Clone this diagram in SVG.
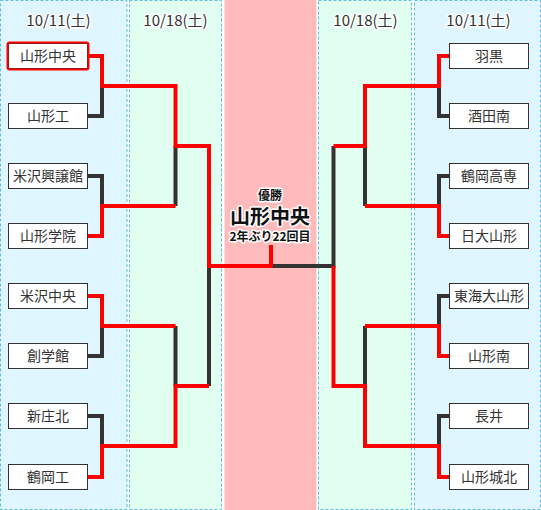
<svg xmlns="http://www.w3.org/2000/svg" width="541" height="510" viewBox="0 0 541 510">
<style>
.col{stroke:#5bc0de;stroke-width:1;stroke-dasharray:3,2}
.blue{fill:#dff5ff}
.mint{fill:#e1fff1}
.pink{fill:#ffbbbb}
.hd{font-family:"Noto Sans CJK JP","Noto Sans",sans-serif;font-size:15px;fill:#333;text-anchor:middle;stroke:#fff;stroke-width:3;paint-order:stroke;stroke-linejoin:round}
.box rect{fill:#fff;stroke:#333;stroke-width:1}
.box text{font-family:"Noto Sans CJK JP","Noto Sans",sans-serif;font-size:14px;fill:#333;text-anchor:middle}
.dk{fill:none;stroke:#333;stroke-width:4;stroke-linejoin:miter}
.rd{fill:none;stroke:#ff0000;stroke-width:4;stroke-linejoin:miter}
.win{font-family:"Noto Sans CJK JP","Noto Sans",sans-serif;font-weight:bold;fill:#111;text-anchor:middle;stroke:#fff;stroke-width:3;paint-order:stroke;stroke-linejoin:round}
</style>
<g id="columns">
<rect class="col blue" x="0.5" y="0.5" width="126.5" height="509"/>
<rect class="col mint" x="129.5" y="0.5" width="92" height="509"/>
<rect class="pink" x="224.5" y="0" width="92" height="510"/>
<rect class="col mint" x="318.5" y="0.5" width="93" height="509"/>
<rect class="col blue" x="414.5" y="0.5" width="126" height="509"/>
</g>
<g id="headers">
<text class="hd" x="58.5" y="26">10/11(土)</text>
<text class="hd" x="175.5" y="26">10/18(土)</text>
<text class="hd" x="365.5" y="26">10/18(土)</text>
<text class="hd" x="478.5" y="26">10/11(土)</text>
</g>
<g id="connectors">
<path class="dk" d="M88,116 H102 V86"/>
<path class="dk" d="M88,176 H102 V206"/>
<path class="dk" d="M175.5,206 V146"/>
<path class="dk" d="M88,356 H102 V326"/>
<path class="dk" d="M175.5,326 V386"/>
<path class="dk" d="M88,416 H102 V446"/>
<path class="dk" d="M209,386 V266"/>
<path class="dk" d="M449,116 H439 V86"/>
<path class="dk" d="M333.5,146 V266 H271"/>
<path class="dk" d="M449,176 H439 V206"/>
<path class="dk" d="M365,206 V146"/>
<path class="dk" d="M449,296 H439 V326"/>
<path class="dk" d="M365,326 V386"/>
<path class="dk" d="M449,416 H439 V446"/>
<path class="rd" d="M88,56 H102 V86 H175.5 V146 H209 V266 H271 V245"/>
<path class="rd" d="M88,236 H102 V206 H175.5"/>
<path class="rd" d="M88,296 H102 V326 H175.5"/>
<path class="rd" d="M88,477 H102 V446 H175.5 V386 H209"/>
<path class="rd" d="M449,56 H439 V86 H365 V146 H333.5"/>
<path class="rd" d="M449,236 H439 V206 H365"/>
<path class="rd" d="M449,356 H439 V326 H365"/>
<path class="rd" d="M449,477 H439 V446 H365 V386 H333.5 V266"/>
</g>
<g id="n1" class="box"><rect x="8.5" y="43.5" width="79" height="25"/><rect x="7.5" y="42.5" width="81" height="27" rx="2" style="fill:none;stroke:#ff0000;stroke-width:2"/><text x="48" y="61">山形中央</text></g>
<g id="n2" class="box"><rect x="8.5" y="103.5" width="79" height="25"/><text x="48" y="121">山形工</text></g>
<g id="n3" class="box"><rect x="8.5" y="163.5" width="79" height="25"/><text x="48" y="181">米沢興譲館</text></g>
<g id="n4" class="box"><rect x="8.5" y="223.5" width="79" height="25"/><text x="48" y="241">山形学院</text></g>
<g id="n5" class="box"><rect x="8.5" y="283.5" width="79" height="25"/><text x="48" y="301">米沢中央</text></g>
<g id="n6" class="box"><rect x="8.5" y="343.5" width="79" height="25"/><text x="48" y="361">創学館</text></g>
<g id="n7" class="box"><rect x="8.5" y="403.5" width="79" height="25"/><text x="48" y="421">新庄北</text></g>
<g id="n8" class="box"><rect x="8.5" y="464.5" width="79" height="25"/><text x="48" y="482">鶴岡工</text></g>
<g id="n9" class="box"><rect x="449.5" y="43.5" width="79" height="25"/><text x="489" y="61">羽黒</text></g>
<g id="n10" class="box"><rect x="449.5" y="103.5" width="79" height="25"/><text x="489" y="121">酒田南</text></g>
<g id="n11" class="box"><rect x="449.5" y="163.5" width="79" height="25"/><text x="489" y="181">鶴岡高専</text></g>
<g id="n12" class="box"><rect x="449.5" y="223.5" width="79" height="25"/><text x="489" y="241">日大山形</text></g>
<g id="n13" class="box"><rect x="449.5" y="283.5" width="79" height="25"/><text x="489" y="301">東海大山形</text></g>
<g id="n14" class="box"><rect x="449.5" y="343.5" width="79" height="25"/><text x="489" y="361">山形南</text></g>
<g id="n15" class="box"><rect x="449.5" y="403.5" width="79" height="25"/><text x="489" y="421">長井</text></g>
<g id="n16" class="box"><rect x="449.5" y="464.5" width="79" height="25"/><text x="489" y="482">山形城北</text></g>
<g id="champion">
<text class="win" x="270" y="200" font-size="12">優勝</text>
<text class="win" x="270" y="224" font-size="20">山形中央</text>
<text class="win" x="270" y="241" font-size="12">2年ぶり22回目</text>
</g>
</svg>
